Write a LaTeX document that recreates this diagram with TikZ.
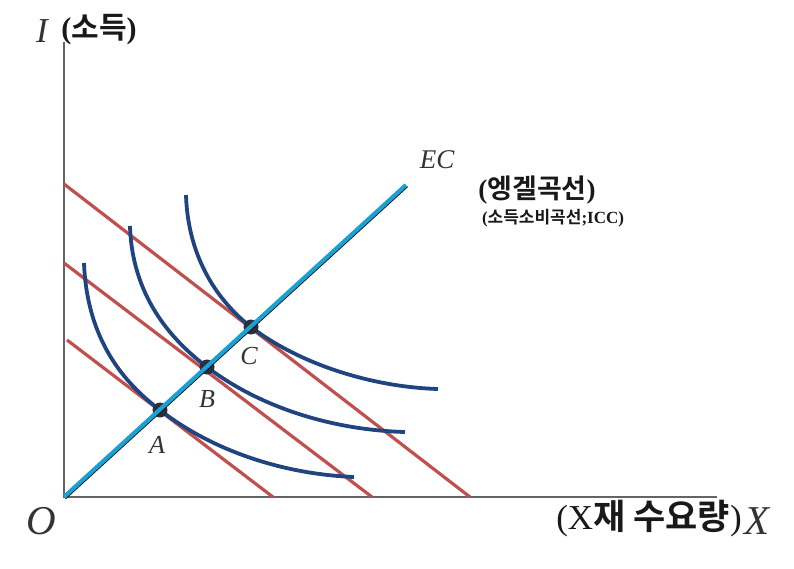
\documentclass[tikz,border=0pt]{standalone}
\usepackage{fontspec}
\newfontfamily\kr{Noto Sans CJK KR}[BoldFont={Noto Sans CJK KR Bold}]
\newfontfamily\tms{Liberation Serif}
\usetikzlibrary{calc}

\definecolor{axisgray}{RGB}{100,100,100}
\definecolor{budgetred}{RGB}{192,80,77}
\definecolor{icblue}{RGB}{31,68,128}
\definecolor{ecblue}{RGB}{28,160,212}
\definecolor{dotgray}{RGB}{40,48,60}

\newcommand{\kor}[1]{{\kr\bfseries #1}}

\begin{document}
\begin{tikzpicture}[
  x=1pt, y=-1pt,
  axis/.style={draw=axisgray, line width=2.6pt},
  budget/.style={draw=budgetred, line width=3.2pt},
  indiff/.style={draw=icblue, line width=3.8pt},
  engel/.style={draw=ecblue, line width=4.2pt},
  pt/.style={circle, fill=dotgray, inner sep=0pt, minimum size=15pt},
  lab/.style={inner sep=0pt, text=black!80},
  ktext/.style={inner sep=0pt, text=black!90},
]
\useasboundingbox (0,0) rectangle (794,569);

% Axes
\coordinate (O) at (64,497);
\coordinate (ytop) at (64,42);
\coordinate (xend) at (717,497);
\draw[axis] (ytop) -- (O) -- (xend);

% Budget lines
\coordinate (b1s) at (67,340);  \coordinate (b1e) at (273,497);
\coordinate (b2s) at (64,263);  \coordinate (b2e) at (372,497);
\coordinate (b3s) at (64,184);  \coordinate (b3e) at (470,497);
\draw[budget] (b1s) -- (b1e);
\draw[budget] (b2s) -- (b2e);
\draw[budget] (b3s) -- (b3e);

% Indifference curves
\coordinate (A) at (160,410);
\coordinate (B) at (207,367);
\coordinate (C) at (251,327);
\coordinate (i1s) at (84,263);  \coordinate (i1e) at (354,477);
\coordinate (i2s) at (130,226); \coordinate (i2e) at (405,432);
\coordinate (i3s) at (186,195); \coordinate (i3e) at (438,389);
\draw[indiff] (i1s) .. controls (87,340) and (124,383) .. (A)
  .. controls (210,449) and (280,474) .. (i1e);
\draw[indiff] (i2s) .. controls (132,295) and (170,339) .. (B)
  .. controls (258,406) and (330,430) .. (i2e);
\draw[indiff] (i3s) .. controls (188,260) and (220,303) .. (C)
  .. controls (298,363) and (370,387) .. (i3e);

% Tangency points
\node[pt] (Adot) at (A) {};
\node[pt] (Bdot) at (B) {};
\node[pt] (Cdot) at (C) {};

% Engel curve
\coordinate (ecend) at (406,185);
\draw[black, line width=1.6pt] ($(O)+(1.4,1.5)$) -- ($(ecend)+(1.4,1.5)$);
\draw[engel] (O) -- (ecend);

% Labels
\node[lab, font=\tms\itshape\fontsize{35}{35}\selectfont] (lI) at (42,31) {I};
\node[ktext, font=\tms\bfseries\fontsize{30}{30}\selectfont] (lincome) at (99,30) {(\kor{소득})};
\node[lab, font=\tms\itshape\fontsize{41}{41}\selectfont] (lO) at (41,521) {O};
\node[lab, font=\tms\itshape\fontsize{41}{41}\selectfont] (lX) at (757,521) {X};
\node[ktext, font=\tms\fontsize{35}{35}\selectfont] (lqty) at (649,519) {(X\kor{재 수요량})};
\node[lab, font=\tms\itshape\fontsize{27}{27}\selectfont] (lEC) at (437,160) {EC};
\node[ktext, font=\tms\bfseries\fontsize{27}{27}\selectfont] (lengel) at (537,190) {(\kor{엥겔곡선})};
\node[ktext, font=\tms\bfseries\fontsize{17}{17}\selectfont] (licc) at (553,218) {(\kor{소득소비곡선};ICC)};
\node[lab, font=\tms\itshape\fontsize{26}{26}\selectfont] (lA) at (157,445) {A};
\node[lab, font=\tms\itshape\fontsize{26}{26}\selectfont] (lB) at (207,399) {B};
\node[lab, font=\tms\itshape\fontsize{26}{26}\selectfont] (lC) at (249,356) {C};
\end{tikzpicture}
\end{document}
